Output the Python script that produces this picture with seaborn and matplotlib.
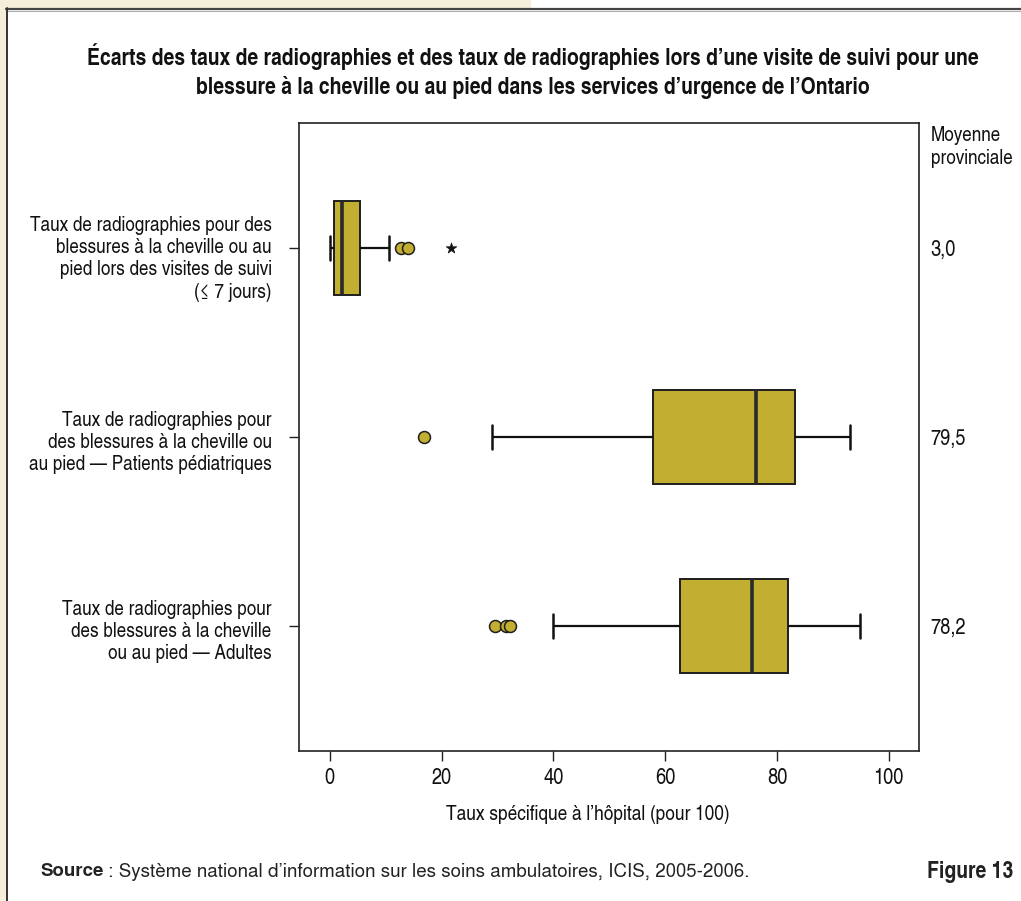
import matplotlib
matplotlib.use("Agg")
import matplotlib.pyplot as plt
from matplotlib.patches import Rectangle
from matplotlib.lines import Line2D
from matplotlib.transforms import ScaledTranslation
import seaborn as sns
import pandas as pd
import numpy as np

# ---------------- data ----------------
categories = [
    "Taux de radiographies pour des\nblessures à la cheville ou au\npied lors des visites de suivi\n(≤ 7 jours)",
    "Taux de radiographies pour\ndes blessures à la cheville ou\nau pied — Patients pédiatriques",
    "Taux de radiographies pour\ndes blessures à la cheville\nou au pied — Adultes",
]
# five-number summaries: lower whisker, Q1, median, Q3, upper whisker
whisker_low = [0.0, 29.1, 40.0]
q1 = [0.77, 57.8, 62.6]
median = [2.15, 76.3, 75.5]
q3 = [5.49, 83.3, 81.9]
whisker_high = [10.55, 93.0, 94.8]
# outliers (circles) and extreme values (star)
outlier_cat = [0, 0, 1, 2, 2, 2]
outlier_val = [12.7, 14.0, 16.9, 29.5, 31.5, 32.3]
extreme_cat = [0]
extreme_val = [21.7]
provincial_means = ["3,0", "79,5", "78,2"]
xticks = [0, 20, 40, 60, 80, 100]

title = ("Écarts des taux de radiographies et des taux de radiographies lors d’une visite de suivi pour une\n"
         "blessure à la cheville ou au pied dans les services d’urgence de l’Ontario")
xlabel = "Taux spécifique à l’hôpital (pour 100)"
means_header = "Moyenne\nprovinciale"
source_bold = "Source"
source_rest = " : Système national d’information sur les soins ambulatoires, ICIS, 2005-2006."
figure_label = "Figure 13"

# ---------------- build tables ----------------
rows = []
for i, c in enumerate(categories):
    for v in (whisker_low[i], q1[i], median[i], q3[i], whisker_high[i]):
        rows.append({"categorie": c, "valeur": v})
box_df = pd.DataFrame(rows)
out_df = pd.DataFrame({"categorie": [categories[i] for i in outlier_cat], "valeur": outlier_val})
ext_df = pd.DataFrame({"categorie": [categories[i] for i in extreme_cat], "valeur": extreme_val})

# ---------------- style ----------------
sns.set_theme(style="white")
NARROW = ["TeX Gyre Heros Cn", "DejaVu Sans"]
REG = ["TeX Gyre Heros", "DejaVu Sans"]
plt.rcParams["font.family"] = NARROW

FILL = "#C2AF31"
EDGE = "#1e1e1e"
TXT = "#111111"

fig = plt.figure(figsize=(10.21, 9.01), dpi=100)
fig.patch.set_facecolor("white")

# background frame (cream tab and border)
cream = "#F5EEDA"
fig.add_artist(Rectangle((0, 0), 6 / 1021, 1, transform=fig.transFigure, color=cream, zorder=0))
fig.add_artist(Rectangle((0, 1 - 8 / 901), 530 / 1021, 8 / 901, transform=fig.transFigure, color=cream, zorder=0))
fig.add_artist(Line2D([6 / 1021, 1], [1 - 8.5 / 901, 1 - 8.5 / 901], transform=fig.transFigure,
                      color="#444444", lw=1.6, zorder=1))
fig.add_artist(Line2D([6 / 1021, 1], [1 - 10.5 / 901, 1 - 10.5 / 901], transform=fig.transFigure,
                      color="#b0b0b0", lw=0.8, zorder=1))
fig.add_artist(Line2D([6.5 / 1021, 6.5 / 1021], [0, 1 - 8 / 901], transform=fig.transFigure,
                      color="#333333", lw=1.4, zorder=1))

ax = fig.add_axes([299 / 1021, 1 - 751 / 901, 620 / 1021, 628 / 901])

sns.boxplot(data=box_df, x="valeur", y="categorie", order=categories, orient="h",
            whis=(0, 100), showfliers=False, width=0.5, color=FILL, saturation=1,
            linecolor=EDGE, linewidth=1.4,
            medianprops={"linewidth": 2.6, "color": "#2a2a2a"},
            whiskerprops={"linewidth": 1.6, "color": "#111111"},
            capprops={"linewidth": 1.8, "color": "#111111"}, ax=ax)

# shorten whisker caps
for ln in ax.lines:
    xd = np.asarray(ln.get_xdata(), dtype=float)
    yd = np.asarray(ln.get_ydata(), dtype=float)
    if len(xd) == 2 and xd[0] == xd[1] and abs(yd[1] - yd[0]) < 0.45:
        c = yd.mean()
        ln.set_ydata([c - 0.062, c + 0.062])

sns.stripplot(data=out_df, x="valeur", y="categorie", order=categories, orient="h",
              jitter=False, marker="o", size=8.6, color=FILL, edgecolor=EDGE, linewidth=1.1,
              ax=ax, zorder=5)
sns.stripplot(data=ext_df, x="valeur", y="categorie", order=categories, orient="h",
              jitter=False, marker="*", size=8, color="#111111", edgecolor="#111111", linewidth=0.5,
              ax=ax, zorder=5)

ax.set_xlim(-5.5, 105.4)
ax.set_ylim(2.661, -0.661)
ax.set_xticks(xticks)
ax.set_xticklabels([str(t) for t in xticks], fontsize=16, color=TXT)
ax.set_yticks(range(len(categories)))
ax.set_yticklabels(categories, fontsize=15, color=TXT, linespacing=1.22)
ax.tick_params(axis="x", direction="out", length=7, width=1, color="#222222", pad=5, bottom=True)
ax.tick_params(axis="y", direction="out", length=7, width=1, color="#222222", pad=12.7, left=True)
y_shift_px = [7, 2, 2]
for lab, dy in zip(ax.get_yticklabels(), y_shift_px):
    lab.set_multialignment("right")
    lab.set_transform(lab.get_transform() + ScaledTranslation(0, -dy / 100, fig.dpi_scale_trans))
ax.set_xlabel("")
ax.set_ylabel("")
for s in ax.spines.values():
    s.set_visible(True)
    s.set_color("#222222")
    s.set_linewidth(1.2)
ax.grid(False)

# right-hand provincial means
ax2 = ax.twinx()
ax2.set_ylim(ax.get_ylim())
ax2.set_yticks(range(len(categories)))
ax2.set_yticklabels(provincial_means, fontsize=16, color=TXT)
ax2.tick_params(axis="y", length=0, pad=8, right=True)
for s in ax2.spines.values():
    s.set_visible(False)
ax2.grid(False)

fig.text(931 / 1021, 1 - 147 / 901, means_header, fontsize=15, ha="left", va="center",
         color=TXT, linespacing=1.22)

fig.text(588 / 1021, 1 - 814 / 901, xlabel, fontsize=15.2, ha="center", va="center", color=TXT)

fig.text(533 / 1021, 1 - 71.5 / 901, title, fontsize=17, fontweight="bold", ha="center", va="center",
         color=TXT, linespacing=1.33)

# source line
fig.canvas.draw()
t1 = fig.text(40 / 1021, 1 - 872 / 901, source_bold, fontsize=13.5, fontweight="bold", family=REG,
              ha="left", va="center", color="#222222")
r = fig.canvas.get_renderer()
bb = t1.get_window_extent(r)
fig.text(bb.x1 / fig.bbox.width, 1 - 872 / 901, source_rest, fontsize=13.5, family=REG,
         ha="left", va="center", color="#222222")
fig.text(1013 / 1021, 1 - 872 / 901, figure_label, fontsize=17, fontweight="bold",
         ha="right", va="center", color="#222222")

fig.savefig("out.png", dpi=100, facecolor="white")
